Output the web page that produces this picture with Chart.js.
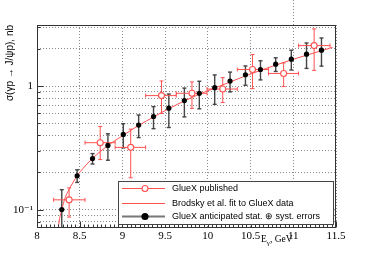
<!DOCTYPE html>
<html>
<head>
<meta charset="utf-8">
<script src="https://cdn.jsdelivr.net/npm/chart.js@4.4.1/dist/chart.umd.min.js"></script>
<style>
  html, body { margin: 0; padding: 0; background: #fff; }
  #wrap { width: 374px; height: 255px; }
</style>
</head>
<body>
<div id="wrap"><canvas id="xsec" width="374" height="255"></canvas></div>
<script>
/*
  J/psi photoproduction cross section vs photon energy.
  Values (nb, GeV).
*/

/* Brodsky et al. fit curve */
const fitE     = [8.245, 8.265, 8.29, 8.33, 8.39, 8.47, 8.54, 8.65, 8.83, 9.01, 9.19, 9.37, 9.55,
                  9.73, 9.91, 10.09, 10.27, 10.45, 10.63, 10.81, 10.99, 11.17, 11.35, 11.46];
const fitSigma = [0.068, 0.085, 0.100, 0.125, 0.152, 0.188, 0.216, 0.260, 0.330, 0.400, 0.480, 0.565, 0.660,
                  0.760, 0.865, 0.970, 1.085, 1.215, 1.350, 1.490, 1.640, 1.790, 1.950, 2.060];

/* GlueX published points: bin edges + asymmetric vertical errors */
const pubE     = [8.376, 8.74, 9.097, 9.457, 9.814, 10.174, 10.523, 10.887, 11.244];
const pubSigma = [0.120, 0.348, 0.319, 0.837, 0.874, 0.946, 1.362, 1.265, 2.126];
const pubLow   = [0.087, 0.254, 0.181, 0.600, 0.660, 0.735, 0.953, 0.990, 1.340];
const pubHigh  = [0.150, 0.471, 0.448, 1.100, 1.080, 1.170, 1.800, 1.540, 2.900];
const pubBinLo = [8.194, 8.562, 8.915, 9.272, 9.630, 9.990, 10.345, 10.710, 11.062];
const pubBinHi = [8.562, 8.915, 9.272, 9.630, 9.990, 10.345, 10.710, 11.062, 11.430];

/* GlueX anticipated points, stat (+) syst total error */
const antE     = [8.29, 8.47, 8.65, 8.83, 9.01, 9.19, 9.364, 9.543, 9.725, 9.90, 10.08, 10.26,
                  10.44, 10.616, 10.794, 10.977, 11.155, 11.33];
const antSigma = [0.100, 0.188, 0.259, 0.331, 0.406, 0.483, 0.567, 0.662, 0.763, 0.874, 0.971, 1.097,
                  1.235, 1.362, 1.503, 1.649, 1.810, 1.950];
const antErr   = [0.045, 0.022, 0.025, 0.080, 0.090, 0.100, 0.115, 0.200, 0.200, 0.220, 0.260, 0.200,
                  0.220, 0.240, 0.190, 0.300, 0.420, 0.500];

/* axes */
const xMin = 8, xMax = 11.5, xStep = 0.5, xMinorStep = 0.05;
const yMin = 0.071, yMax = 3.12;
const yTickValues = [0.08, 0.09, 0.1, 0.2, 0.3, 0.4, 0.5, 0.6, 0.7, 0.8, 0.9, 1, 2, 3];
const yLabelled = { 0.1: '10\u207B\u00B9', 1: '1' };

const RED = '#ff5050';
const SERIF = '"Liberation Serif", "DejaVu Serif", serif';
const SANS = '"Liberation Sans", Arial, sans-serif';

function seg(ctx, x0, y0, x1, y1) {
  ctx.beginPath(); ctx.moveTo(x0, y0); ctx.lineTo(x1, y1); ctx.stroke();
}

/* error bars drawn under the markers, clipped to the frame */
const errorBars = {
  id: 'errorBars',
  beforeDatasetsDraw(chart) {
    const { ctx, chartArea: a, scales: { x, y } } = chart;
    ctx.save();
    ctx.beginPath(); ctx.rect(a.left, a.top, a.width, a.height); ctx.clip();

    ctx.strokeStyle = '#444'; ctx.lineWidth = 1.4;
    antE.forEach((e, i) => {
      const px = x.getPixelForValue(e);
      const top = y.getPixelForValue(antSigma[i] + antErr[i]);
      const bot = y.getPixelForValue(Math.max(antSigma[i] - antErr[i], 0.01));
      seg(ctx, px, top, px, bot);
      seg(ctx, px - 2, top, px + 2, top);
      seg(ctx, px - 2, bot, px + 2, bot);
    });

    ctx.strokeStyle = RED; ctx.lineWidth = 1;
    pubE.forEach((e, i) => {
      const px = x.getPixelForValue(e), py = y.getPixelForValue(pubSigma[i]);
      const top = y.getPixelForValue(pubHigh[i]), bot = y.getPixelForValue(pubLow[i]);
      const l = x.getPixelForValue(pubBinLo[i]), r = x.getPixelForValue(pubBinHi[i]);
      seg(ctx, px, top, px, bot);
      seg(ctx, px - 2, top, px + 2, top);
      seg(ctx, px - 2, bot, px + 2, bot);
      seg(ctx, l, py, r, py);
      seg(ctx, l, py - 2, l, py + 2);
      seg(ctx, r, py - 2, r, py + 2);
    });
    ctx.restore();
  }
};

/* ROOT style frame, inside ticks, x title, legend */
const decorations = {
  id: 'decorations',
  afterDraw(chart) {
    const { ctx, chartArea: a, scales: { x, y } } = chart;
    ctx.save();

    /* the x=11 grid line that runs up past the frame */
    ctx.strokeStyle = '#888'; ctx.lineWidth = 1; ctx.setLineDash([1, 2]);
    const g11 = Math.round(x.getPixelForValue(11)) + 0.5;
    seg(ctx, g11, 0, g11, a.top);
    ctx.setLineDash([]);

    /* frame */
    ctx.strokeStyle = '#333'; ctx.lineWidth = 1;
    ctx.strokeRect(Math.round(a.left) + 0.5, Math.round(a.top) + 0.5,
                   Math.round(a.width) - 1, Math.round(a.height) - 1);

    /* inside ticks */
    const b = Math.round(a.bottom) - 0.5;
    for (let v = xMin; v <= xMax + 1e-9; v += xMinorStep) {
      const px = Math.round(x.getPixelForValue(v)) + 0.5;
      const major = Math.abs(v / xStep - Math.round(v / xStep)) < 1e-6;
      seg(ctx, px, b, px, b - (major ? 6 : 3));
    }
    const lft = Math.round(a.left) + 0.5;
    yTickValues.forEach(v => {
      const py = Math.round(y.getPixelForValue(v)) + 0.5;
      seg(ctx, lft, py, lft + (yLabelled[v] ? 6 : 3), py);
    });

    /* x axis title with subscript */
    ctx.fillStyle = '#000'; ctx.textBaseline = 'alphabetic'; ctx.textAlign = 'left';
    let tx = a.right - 75;
    const ty = a.bottom + 14;
    ctx.font = '9.5px ' + SERIF;
    ctx.fillText('E', tx, ty); tx += ctx.measureText('E').width;
    ctx.font = '7px ' + SERIF;
    ctx.fillText('\u03B3', tx, ty + 2.5); tx += ctx.measureText('\u03B3').width;
    ctx.font = '9.5px ' + SERIF;
    ctx.fillText(', GeV', tx, ty);

    /* legend box */
    const lw = 215, lh = 43;
    const lx = a.right - 3 - lw, ly = a.bottom - 4 - lh;
    ctx.fillStyle = '#fff';
    ctx.fillRect(lx, ly, lw, lh);
    ctx.strokeStyle = '#444';
    ctx.strokeRect(Math.round(lx) + 0.5, Math.round(ly) + 0.5, lw, lh);

    const rows = [7, 21.5, 35];
    const legendOrder = [0, 1, 2];
    ctx.font = '9px ' + SANS; ctx.textBaseline = 'middle';
    legendOrder.forEach((di, k) => {
      const ds = chart.data.datasets[di];
      const yy = Math.round(ly + rows[k]) + 0.5;
      ctx.strokeStyle = ds.legendLine; ctx.lineWidth = ds.legendWidth;
      seg(ctx, lx + 4, yy, lx + 47, yy);
      if (ds.pointRadius > 0) {
        ctx.beginPath();
        ctx.arc(lx + 27, yy, ds.pointRadius, 0, Math.PI * 2);
        ctx.fillStyle = ds.pointBackgroundColor; ctx.fill();
        ctx.lineWidth = ds.pointBorderWidth; ctx.strokeStyle = ds.pointBorderColor; ctx.stroke();
      }
      ctx.fillStyle = '#000';
      ctx.fillText(ds.label, lx + 54, yy);
    });
    ctx.restore();
  }
};

new Chart(document.getElementById('xsec'), {
  type: 'scatter',
  data: {
    datasets: [
      {
        label: 'GlueX published',
        data: pubE.map((e, i) => ({ x: e, y: pubSigma[i] })),
        showLine: false,
        pointRadius: 3, pointHoverRadius: 3,
        pointBackgroundColor: '#fff', pointBorderColor: RED, pointBorderWidth: 1.1,
        legendLine: RED, legendWidth: 1,
        order: 1
      },
      {
        label: 'Brodsky et al. fit to GlueX data',
        data: fitE.map((e, i) => ({ x: e, y: fitSigma[i] })),
        showLine: true,
        borderColor: RED, borderWidth: 1,
        cubicInterpolationMode: 'monotone',
        pointRadius: 0, pointHoverRadius: 0,
        legendLine: RED, legendWidth: 1,
        order: 2
      },
      {
        label: 'GlueX anticipated stat. \u2295 syst. errors',
        data: antE.map((e, i) => ({ x: e, y: antSigma[i] })),
        showLine: false,
        pointRadius: 2.6, pointHoverRadius: 2.6,
        pointBackgroundColor: '#000', pointBorderColor: '#000', pointBorderWidth: 0,
        legendLine: '#777', legendWidth: 2,
        order: 0
      }
    ]
  },
  options: {
    responsive: false,
    animation: false,
    devicePixelRatio: 1,
    layout: { padding: { top: 25, right: 38, left: 0, bottom: 0 } },
    plugins: { legend: { display: false }, tooltip: { enabled: false } },
    scales: {
      x: {
        type: 'linear', min: xMin, max: xMax,
        afterFit: s => { s.height = 27; },
        ticks: {
          stepSize: xStep, padding: 2, color: '#000',
          font: { family: SERIF, size: 11 },
          maxRotation: 0, autoSkip: false,
          callback: v => String(Math.round(v * 10) / 10)
        },
        grid: { color: '#8a8a8a', lineWidth: 1, drawTicks: false },
        border: { display: false, dash: [1, 2] }
      },
      y: {
        type: 'logarithmic', min: yMin, max: yMax,
        afterFit: s => { s.width = 37; },
        afterBuildTicks: s => { s.ticks = yTickValues.map(v => ({ value: v })); },
        ticks: {
          autoSkip: false, padding: 4, color: '#000',
          font: { family: SERIF, size: 11 },
          callback: v => yLabelled[v] || ''
        },
        grid: { color: '#8a8a8a', lineWidth: 1, drawTicks: false },
        border: { display: false, dash: [1, 2] },
        title: {
          display: true, align: 'end',
          text: '\u03C3(\u03B3p \u2192 J/\u03C8p), nb',
          color: '#000', font: { family: SANS, size: 10 },
          padding: { top: 4, bottom: 0 }
        }
      }
    }
  },
  plugins: [errorBars, decorations]
});
</script>
</body>
</html>
